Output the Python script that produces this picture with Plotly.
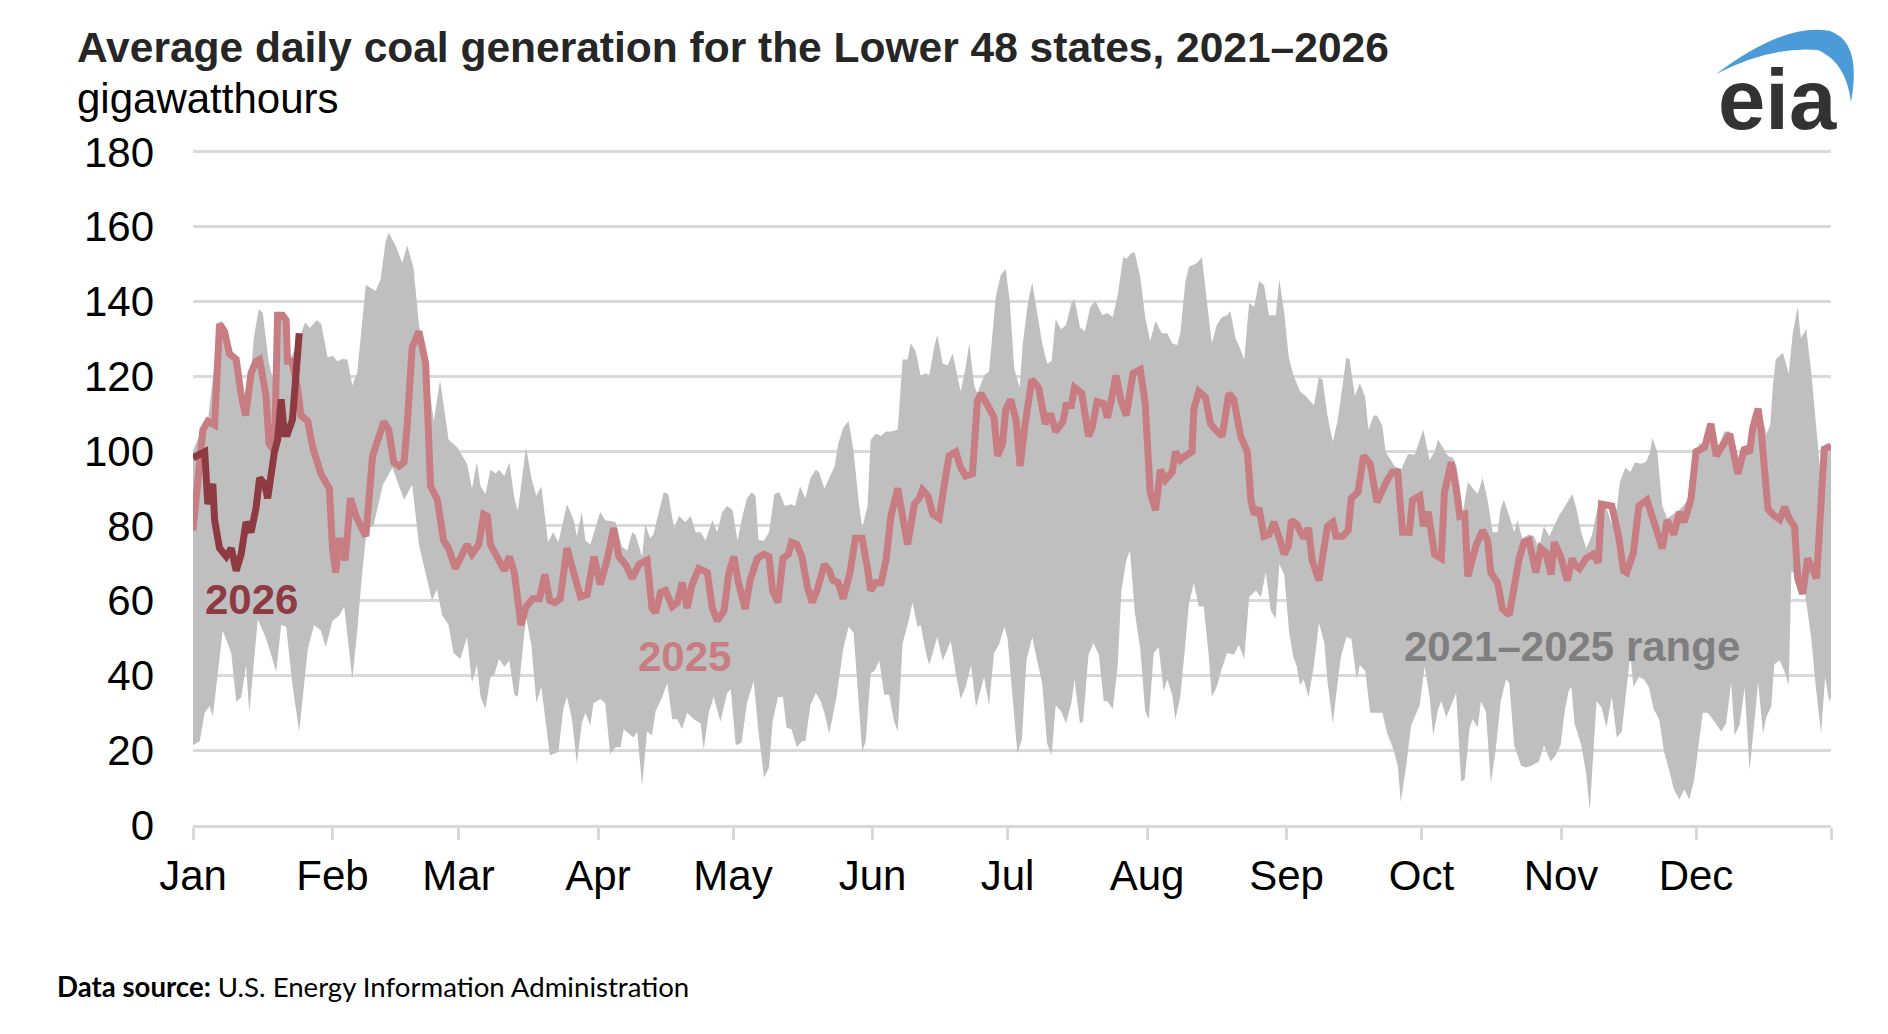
import plotly.graph_objects as go

# ---------------- data (day of year, 0 = Jan 1) ----------------
upper_day = [0, 2, 3.3, 5.9, 7, 8.1, 9.6, 10.7, 11.7, 12.9, 13.5, 14.6, 15.5, 16.8, 18, 18.8, 20, 20.7, 21.5, 23,
             24.9, 26, 27.5, 28.5, 29.9, 31, 32.1, 33.2, 34.3, 35.4, 36.5, 38.4, 40.6, 41.7, 42.8, 43.5, 45, 46.5, 47.6, 49,
             50.2, 51.7, 53.5, 54.9, 56.8, 58.7, 60.9, 62, 63.1, 63.9, 65, 66.1, 67.3, 68, 69.2, 70.3, 71.4, 72.2, 74, 75.2,
             76.3, 77.4, 78.9, 80, 81.2, 83.1, 84.6, 85.3, 86.4, 87.2, 88.3, 90.5, 91.6, 93.9, 95.3, 96.5, 97.6, 98.3, 99.8, 100.5,
             101.6, 102.3, 104.6, 105.6, 106.9, 108, 109.4, 110.6, 111.7, 112.8, 113.9, 115.4, 116.5, 117.6, 118.7, 119.9, 121, 121.9, 123.1, 124.2,
             125, 125.7, 126.9, 128, 129.2, 130.3, 131.5, 133, 133.8, 134.9, 136.1, 137.2, 138.4, 139.1, 140.3, 141.4, 142.6, 143.4, 144.5, 145.7,
             146.8, 147.9, 148.7, 149.9, 150.6, 151.7, 152.9, 154, 155.1, 156.6, 157.7, 158.8, 159.5, 160.6, 161.7, 162.9, 163.6, 164.7, 165.4, 166.6,
             167.7, 168.8, 169.9, 170.6, 171.7, 172.5, 173.6, 174.3, 175.8, 176.9, 178.4, 179.5, 180.6, 181.5, 182.5, 183.7, 184.4, 185.6, 186.5, 187.5,
             188.7, 189.8, 190.8, 191.7, 192.9, 194, 195.2, 195.9, 197.1, 198.2, 199.4, 200.5, 202.1, 203.2, 204.4, 205.5, 206.7, 207.4, 208.6, 209.3,
             210.5, 211.6, 212.7, 213.9, 215.3, 216.5, 217.6, 218.7, 219.4, 220.5, 221.3, 223.1, 224.2, 225.3, 226.4, 227.5, 228.6, 229.8, 230.5, 231.7,
             232.4, 233.6, 234.7, 235.8, 236.9, 238, 239.1, 240.6, 241.4, 242.5, 243.5, 244.5, 246, 247.2, 249.1, 250.2, 251, 252.1, 253.3, 254.4,
             255.5, 256.3, 257, 258.2, 259.3, 260.5, 261.2, 262.4, 263.1, 264.3, 265, 267, 268.5, 270, 271.5, 273.4, 274.8, 275.9, 276.7, 277.8,
             278.9, 280, 280.9, 282.2, 283.3, 284.4, 285.5, 286.6, 287.7, 288.8, 289.9, 290.6, 291.3, 292.5, 293.6, 294.3, 295.4, 296.9, 298, 299.1,
             300.2, 301.4, 302.4, 303.5, 304.6, 305.8, 306.5, 307.4, 308.5, 309.6, 310.8, 312.3, 313.8, 315.3, 316.4, 317.1, 318.3, 319.4, 320.5, 321.6,
             322.8, 323.7, 324.3, 325.4, 326.5, 327.6, 329.1, 330.3, 331.4, 332.5, 333.6, 334.7, 335.9, 337, 338.1, 339.2, 340.3, 341.5, 342.6, 343.7,
             344.8, 345.9, 347.1, 348, 349.7, 350.5, 351.1, 351.7, 353.3, 354.6, 355.5, 356.6, 357.3, 358.5, 359.6, 360.7, 361.8, 362.5, 363.5, 364]
upper_gwh = [100, 106, 108, 135, 132, 126, 124.5, 115, 110, 121, 130, 138, 137, 124, 118, 136.3, 136.5, 135, 124.5, 128,
             134.4, 133, 135, 134, 125, 125.5, 124, 124.6, 124.5, 117.5, 121, 144.4, 142.8, 146, 156, 158.4, 155, 150.3, 155, 149,
             134, 124, 108, 119, 103, 101, 96.6, 90, 97, 90.6, 88.5, 95, 94, 95, 93.3, 97, 87.4, 84, 101, 92.8,
             88, 90.6, 75.6, 78.3, 75.6, 85.8, 81.5, 77.2, 83.7, 76.1, 75, 83.7, 81.5, 81, 74.5, 73.4, 78.3, 77.7, 71.8, 80.4,
             76.7, 77.7, 89, 88.5, 79.4, 82.6, 81, 82.6, 78.3, 78.3, 76.1, 81.5, 78.3, 83.7, 85.3, 84.2, 76, 81.5, 87.4, 89,
             88, 76.1, 76.1, 78.3, 88.5, 89, 85.3, 85.8, 85.3, 90.6, 87.4, 92.8, 95, 94.4, 90, 92.8, 96, 102, 106.2, 108,
             99.8, 86.9, 79.4, 85.3, 103, 104.6, 104, 105.2, 105.2, 105.7, 124.5, 124.5, 128.8, 126.7, 120.2, 120.8, 120.2, 127.7, 131, 123.4,
             122.9, 126.1, 120.2, 115.9, 122.4, 128.8, 117.5, 115.4, 120.2, 121.3, 141.2, 147.1, 148.7, 140, 122, 117, 128.8, 140.1, 145, 137.4,
             128.8, 123.4, 124, 135.3, 132.6, 133.7, 139.6, 140.6, 133.1, 132, 138.5, 140.1, 136.3, 136.9, 135.8, 141.7, 151.9, 151.4, 153, 153,
             146.6, 135.8, 129.4, 134.7, 131.5, 131.5, 128.8, 128.3, 131.5, 145, 149.2, 150.3, 151.9, 140.1, 128.8, 133.7, 135.8, 136.3, 137.4, 130,
             128.3, 124.5, 139.6, 138.5, 145.5, 144.4, 136.3, 136.3, 146, 136.9, 125, 120.5, 115.9, 114.8, 112.2, 119.7, 119.1, 109.5, 102.5, 108.4,
             118.1, 125, 124.5, 114.8, 118.1, 114.3, 105.7, 109.5, 109.5, 106.8, 99.8, 96, 95, 99.2, 99, 105.7, 97.6, 99.8, 103, 100.9,
             98.7, 98.2, 95.5, 83.7, 91.7, 90, 88.5, 92.8, 86.9, 78.3, 78.3, 84.7, 86.9, 82.6, 78.3, 81.5, 76.7, 77.7, 77.2, 74,
             79.9, 77.2, 79.9, 82.6, 84.7, 86.9, 88.5, 84.7, 78.3, 74, 77.2, 85.8, 85.8, 80.4, 84.7, 91.8, 95.5, 94.4, 97, 96.6,
             97, 99.2, 103.5, 99.8, 85.3, 82, 83.1, 84.2, 85.8, 87.4, 98.7, 101.9, 102.5, 107.8, 100.9, 101.9, 105.2, 105.2, 99.8, 95,
             101.4, 101.9, 105.7, 111.6, 104.6, 107, 117.5, 124.4, 126.3, 120.7, 131.5, 138.6, 130.2, 132.5, 121.3, 106, 92, 100.5, 101.5, 101.5]

lower_day = [0, 1.5, 2.6, 3.7, 4.4, 5.5, 6.6, 8.5, 9.6, 10.7, 11.8, 12.5, 14.4, 16.2, 18.5, 19.6, 20.7, 22.1, 23.6, 25.5,
             26.9, 28.4, 29.5, 31, 32.5, 33.6, 35.4, 36.5, 37.6, 38.6, 40.1, 42.2, 44.3, 46.9, 48.7, 50.2, 51.7, 53.1, 54.2, 55.4,
             56.8, 57.9, 59.4, 60.9, 62, 63.1, 63.9, 65, 66.1, 66.9, 68, 69.2, 70.3, 71.4, 72.2, 72.9, 74, 75.2, 76.3, 77.4,
             79.3, 81.2, 82.3, 83.1, 84.2, 85.3, 86.4, 87.2, 88.3, 89, 90.5, 91.6, 92.7, 93.9, 95, 95.7, 96.8, 97.9, 98.7, 99.8,
             100.9, 102, 102.8, 104.3, 105.4, 106.5, 107.6, 108.7, 109.8, 111.3, 112.8, 113.5, 114.6, 115.7, 117.2, 118.7, 119.5, 120.6, 121.9, 123.1,
             124.6, 125.7, 126.9, 128, 128.8, 130, 131.1, 131.9, 133, 134.2, 135.3, 136.1, 137.2, 138.4, 139.5, 140.3, 141.4, 143, 144.5, 145.7,
             146.8, 147.6, 148.7, 149.5, 150.6, 151.4, 152.5, 153.6, 154.7, 155.8, 156.6, 157.7, 158.8, 159.9, 161, 161.7, 162.9, 163.6, 164.7, 165.4,
             166.6, 168.4, 169.5, 170.6, 171.7, 172.9, 174, 174.7, 175.8, 176.9, 178, 179.1, 180.3, 181, 182, 183.2, 184.2, 185.2, 186.5, 187.5,
             188.7, 189.8, 190.8, 191.7, 192.9, 194, 195.2, 195.9, 197.1, 197.8, 199, 200.1, 201.3, 202.4, 203.2, 204.4, 205.5, 206.3, 207.4, 208.2,
             209.3, 210.5, 211.6, 212.4, 213.5, 214.6, 215.7, 216.5, 217.6, 218.3, 219.4, 220.5, 221.3, 222.4, 223.5, 224.6, 225.7, 226.4, 227.5, 228.6,
             229.8, 231.3, 232.4, 233.6, 234.7, 236.2, 237.3, 238.4, 239.5, 240.6, 241.4, 242.5, 243.6, 244.5, 245.3, 246, 246.8, 247.9, 249.1, 250.2,
             251.4, 252.1, 253.3, 254.4, 255.1, 256.3, 257.4, 258.6, 259.3, 260.5, 261.6, 262.7, 264.3, 265.4, 266.9, 267.7, 268.4, 269.6, 270.7, 271.9,
             272.6, 273.7, 274.8, 275.6, 276.7, 277.4, 278.5, 279.6, 280.7, 281.8, 282.6, 283.7, 284.4, 285.5, 286.2, 287.3, 288.4, 289.5, 290.6, 291.8,
             292.5, 293.6, 295.1, 296.2, 297.6, 299.1, 300.2, 301.7, 302.8, 303.9, 304.9, 305.7, 306.3, 307, 308.5, 309.6, 310.4, 311.1, 311.9, 313,
             314.1, 315.3, 316.4, 317.5, 318.3, 319.4, 320.1, 321.3, 322.4, 323.5, 324.6, 325.8, 326.9, 328, 329.1, 330.3, 331.4, 332.5, 333.6, 334.7,
             335.5, 336.6, 338.1, 339.6, 340.7, 341.8, 342.6, 343.7, 344.8, 345.9, 347, 347.8, 348.9, 349.6, 350.7, 351.4, 352.6, 353.7, 354.6, 355.2,
             356.6, 358, 359.6, 360.7, 361.8, 362.7, 363.6, 364]
lower_gwh = [21.3, 22.4, 30, 31.8, 29, 39.6, 52, 46, 33, 34, 42.8, 30, 55, 50, 41, 53.5, 53, 37.4, 25, 47,
             53.5, 52, 47.6, 54.6, 56, 58.4, 39, 52, 67.5, 79, 80, 91, 95.5, 87, 91, 75, 67, 60, 63, 56,
             53.5, 46, 44.4, 50.3, 38, 42.8, 34.3, 31, 39.6, 40, 44.4, 42.3, 44, 34.8, 34.3, 42, 55.7, 48, 32.6, 37,
             18.6, 19.6, 31, 34.3, 28.4, 16.4, 27.2, 30, 26.6, 32.6, 33.7, 32.6, 19, 20.8, 20.8, 25.6, 24.5, 23.4, 25, 10.5,
             25, 24, 30.5, 34.3, 38, 28.3, 28.3, 25.6, 30, 28.3, 27.2, 20.2, 30, 34.2, 27.7, 35.3, 36.3, 21.3, 22, 32.6,
             38.5, 24.5, 12.7, 15.4, 27.7, 34.2, 34.2, 26.1, 25.6, 20.8, 22.4, 22.4, 32, 35.3, 33.1, 30, 24.5, 34.2, 47.1, 53,
             51.4, 39.6, 19.7, 22.4, 40.6, 41.2, 43.9, 34.8, 34.8, 27.7, 25, 48.7, 53.5, 59.5, 53, 53.5, 46, 42.8, 47.1, 50.3,
             43.9, 49.2, 40.6, 33.7, 37, 42.8, 31.5, 34.2, 39.6, 32, 46, 48.2, 53, 50, 35, 19.1, 22.9, 43.9, 50.3, 44.4,
             38, 21.8, 18.6, 32, 30.4, 27.2, 32.6, 39, 27.2, 27.7, 45.5, 48.7, 45.5, 33.1, 33.1, 31, 42.8, 62.7, 70.8, 73.4,
             56.8, 47.1, 30.4, 28.3, 46, 47.6, 35.8, 39, 34.8, 28.3, 34.3, 48.2, 58.9, 64.8, 58.4, 58.4, 45.5, 34.3, 37, 41.7,
             46, 45.5, 48.2, 44.4, 61, 62.7, 61, 67.5, 57.3, 55.2, 69.7, 67, 51.4, 45, 42.3, 37.4, 39, 34.2, 42.8, 54.1,
             48.7, 38.5, 27.2, 38.5, 45, 50.3, 49.8, 39, 42.8, 41.2, 30, 30, 30, 24.5, 19.7, 15.9, 6.2, 15.9, 26.7, 30,
             32, 42.3, 34.2, 24, 31, 33.1, 28.8, 32, 35.3, 11.6, 12.2, 26.1, 28.3, 26.1, 33.1, 30.4, 11.1, 20.2, 33.1, 39,
             38, 21.3, 15.9, 15.4, 15.9, 17, 21.3, 17, 18.6, 21.3, 31, 35.8, 37, 27.2, 21.3, 13.8, 4.1, 15.9, 33.1, 31.5,
             26.1, 34.3, 23.4, 25, 33.1, 45.5, 36.9, 39.6, 39, 36.9, 31, 28.3, 19.6, 14.8, 9.5, 6.8, 9.5, 6.8, 12.2, 22.4,
             30, 30, 27.7, 25, 27.2, 38, 24, 26.8, 36.7, 14.6, 27.8, 38.2, 24.5, 28.8, 31.6, 43, 44, 41, 37.3, 68,
             66, 64, 50, 36, 24.5, 39.6, 33, 34]

y2025_day = [0, 1.5, 2.2, 3.3, 4.8, 5.9, 7, 8.1, 9.6, 10.7, 11.7, 12.9, 14, 14.8, 16.2, 16.9, 18.1, 18.8, 19.9, 20.7,
             21, 22, 23.2, 24, 25.5, 26.6, 28.4, 30.3, 31, 31.7, 32.5, 33.8, 35, 36.2, 37.3, 38.4, 39.9, 40.9, 42.4, 43.5,
             44.6, 45.8, 46.9, 47.6, 48.7, 50.2, 51.7, 52.8, 54.3, 55.7, 56.8, 58.3, 59.8, 60.9, 62, 63.5, 64.6, 65.4, 66.1, 67.3,
             68.4, 69.2, 70.3, 71.4, 72.2, 72.9, 74, 75.5, 77, 78.2, 79.3, 80.4, 81.6, 83.1, 84.6, 86.1, 87.6, 89.1, 90.5, 92,
             93.5, 94.6, 96.1, 97.6, 99.1, 100.9, 102, 102.8, 103.9, 105, 106.5, 107.6, 108.7, 109.8, 110.9, 112.4, 114.3, 115.4, 116.5, 118,
             119.1, 120.2, 121.1, 122.7, 123.8, 125.4, 126.9, 128, 128.8, 130, 131.1, 132.3, 133, 134.2, 135.3, 136.5, 137.6, 138.8, 140.3, 141.4,
             142.2, 143.4, 144.5, 146, 147.2, 148.7, 149.9, 150.6, 151.7, 152.9, 154, 155.1, 156.6, 157.7, 158.8, 160.3, 161.4, 162.1, 163.3, 164.4,
             165.8, 166.9, 168, 169.5, 170.6, 171.7, 173.2, 174.3, 175.1, 176.6, 178, 178.8, 179.9, 180.6, 181.7, 182.9, 183.8, 184.8, 186.4, 187.9,
             189.4, 190.6, 191.7, 193.3, 194, 195.2, 195.9, 197.5, 199, 199.8, 200.9, 202.4, 203.2, 204, 205.1, 206.3, 207.4, 208.9, 210.5, 211.6,
             212.7, 213.9, 215, 216.1, 217.6, 218.3, 219.4, 220.5, 222, 222.4, 223.5, 225, 226.1, 227.2, 228.7, 230.2, 231.3, 232.8, 234.3, 235.1,
             235.8, 236.9, 238, 239.1, 240.2, 241.4, 242.5, 243.4, 244.1, 245.3, 246.8, 247.9, 248.7, 250.2, 251.4, 252.1, 253.3, 254, 255.5, 256.7,
             257.4, 258.9, 260.1, 261.6, 263.1, 264.3, 265.4, 266.5, 267.7, 268.8, 270.3, 271, 272.6, 273.4, 274.5, 275.9, 277.4, 278.1, 279.6, 280.7,
             281.5, 282.6, 283.3, 285.2, 286.6, 287.7, 288.4, 289.9, 291, 292.5, 293.6, 294.7, 295.8, 296.9, 298.4, 299.5, 300.6, 301.8, 302.5, 303.9,
             305.4, 306.5, 307, 308.1, 309.6, 311.1, 312.3, 313, 315.3, 316.8, 317.9, 318.6, 320.1, 321.3, 323.1, 324.6, 326.5, 327.6, 329.1, 330.3,
             331.4, 332.9, 334, 335.9, 337.3, 338.5, 340, 341.5, 343.3, 344.8, 345.9, 346.6, 347.8, 348.5, 350, 351.1, 352.6, 353.7, 354.8, 355.9,
             356.6, 357.7, 358.8, 359.6, 360.8, 362.5, 364]
y2025_gwh = [78.8, 97.6, 105.7, 108, 107, 134, 132, 126, 124.5, 115, 109.5, 120.8, 124, 124.5, 115, 102, 100, 136.3, 136.3, 135,
             124, 124, 117, 109.5, 108, 101, 94, 90, 74, 67.5, 76.7, 70.8, 87.4, 82.6, 79.4, 77.2, 98.7, 102.5, 107.8, 105.7,
             97, 96, 97, 107, 127.7, 132, 123.4, 90.6, 87, 76, 74, 68.6, 71.8, 75, 72.4, 75, 83.1, 82.6, 75, 72.4,
             69.1, 68, 71.8, 67.5, 60, 53.5, 58.4, 60.5, 60.5, 67, 60, 59.5, 60.5, 74, 67.5, 61, 61.6, 71.8, 64.3, 70.8,
             79.4, 71.8, 69.7, 66, 69.7, 70.8, 58, 56.8, 62.2, 62.7, 58.4, 59.5, 64.8, 58, 64.3, 68.6, 67.5, 58, 54.6, 57.3,
             67.5, 71.8, 65.4, 57.8, 65.4, 71.3, 72.4, 71.8, 62.7, 59.5, 71.3, 72.4, 75.6, 75, 71.8, 63.8, 59.5, 63.2, 69.7, 68,
             65.4, 64.8, 60.5, 67.5, 76.7, 76.7, 68.6, 62.7, 64.8, 64.8, 70.8, 82.6, 90, 81.5, 75, 85.8, 87.4, 89.6, 88, 83.1,
             82, 90.6, 98.7, 99.8, 95.5, 93.3, 93.9, 113.2, 115.4, 112.2, 109, 98.7, 102, 111.1, 113.8, 108.4, 96, 106.2, 119.1, 117,
             107.3, 110, 105.2, 107.8, 112.2, 112.2, 117, 115.4, 104, 106.2, 113.2, 112.7, 108.9, 113.2, 120.2, 113.2, 109.5, 120.8, 121.8, 112.7,
             89, 84.2, 95, 92.3, 94.4, 99.8, 97.6, 98.7, 99.8, 111.1, 115.9, 114.3, 107.3, 105.7, 104, 115.4, 113.8, 104, 99.8, 86.9,
             83.1, 84.7, 77.2, 77.7, 81, 76.7, 72.4, 74.5, 81.5, 80.4, 76.7, 79.4, 70.8, 65.4, 74, 79.9, 81, 77.2, 77.2, 78.8,
             87.4, 89, 98.7, 96.6, 86.3, 90, 92.3, 94.4, 94.4, 78.3, 78.3, 86.9, 88, 79.9, 83.7, 72.4, 71.3, 89, 97, 90,
             82.6, 83.1, 66.5, 75, 78.8, 76.1, 67.5, 64.8, 57.8, 56.2, 64.8, 71.3, 75.6, 76.1, 67.5, 74, 72.9, 67, 75.6, 71.8,
             65.4, 71.3, 69.7, 68.6, 71.3, 72.4, 70.2, 85.8, 85.3, 77.2, 68, 67.5, 72.9, 85.3, 86.9, 81, 74, 81.5, 77.7, 83.7,
             81, 87.4, 99.8, 101, 107.3, 98.7, 101.4, 104.6, 93.9, 100.9, 99.5, 106.1, 111.3, 105.2, 84.5, 83, 81.7, 85, 81.7, 79.8,
             66, 61.8, 71.3, 69.4, 66, 100.5, 101.4]

y2026_day = [0, 2.6, 3.3, 4.4, 4.8, 5.9, 7.4, 8.5, 9.6, 10.7, 11.8, 12.9, 14, 14.8, 15.9, 16.6, 18.1, 18.8, 19.6, 20.3,
             21, 22.1, 23.6]
y2026_gwh = [98.2, 99.8, 85.8, 91.2, 81.5, 74, 71.8, 74, 68, 72.4, 81, 78.3, 84.7, 92.8, 91.2, 87.4, 99.8, 103, 113.8, 104.6,
             104.6, 108.4, 131.5]

month_start_day = [0, 31, 59, 90, 120, 151, 181, 212, 243, 273, 304, 334, 364]
month_labels = ["Jan", "Feb", "Mar", "Apr", "May", "Jun", "Jul", "Aug", "Sep", "Oct", "Nov", "Dec", ""]
y_ticks = [0, 20, 40, 60, 80, 100, 120, 140, 160, 180]

# ---------------- styling ----------------
W, H = 1888, 1034
L, R, T, B = 193, 1831, 150, 825   # plot area in pixels
Y_MAX = 180.5                      # a hair above 180 so the top gridline shows
GRAY_FILL = "#bfbfbf"
PINK = "#c77d82"
DARK = "#8e3a42"
GRID = "#d9d9d9"
FONT = "Liberation Sans, Arial, sans-serif"


def px(x):
    return (x - L) / (R - L)


def py(y):
    return (B - y) / (B - T)


fig = go.Figure()

# 2021-2025 range band (upper edge, then lower edge reversed)
fig.add_trace(go.Scatter(
    x=upper_day + lower_day[::-1],
    y=upper_gwh + lower_gwh[::-1],
    fill="toself", fillcolor=GRAY_FILL, mode="lines",
    line=dict(width=0, color=GRAY_FILL), hoverinfo="skip", showlegend=False))

fig.add_trace(go.Scatter(x=y2025_day, y=y2025_gwh, mode="lines",
                         line=dict(color=PINK, width=7), showlegend=False))
fig.add_trace(go.Scatter(x=y2026_day, y=y2026_gwh, mode="lines",
                         line=dict(color=DARK, width=7), showlegend=False))

# series labels
fig.add_annotation(x=13.0, y=60.3, text="<b>2026</b>", showarrow=False,
                   font=dict(family=FONT, size=42, color=DARK), xanchor="center", yanchor="middle")
fig.add_annotation(x=109.3, y=45.1, text="<b>2025</b>", showarrow=False,
                   font=dict(family=FONT, size=42, color=PINK), xanchor="center", yanchor="middle")
fig.add_annotation(x=306.4, y=47.7, text="<b>2021–2025 range</b>", showarrow=False,
                   font=dict(family=FONT, size=42, color="#7f7f7f"), xanchor="center", yanchor="middle")

# title / subtitle / source
fig.add_annotation(xref="paper", yref="paper", x=px(75), y=py(48), xanchor="left", yanchor="middle",
                   text="<b>Average daily coal generation for the Lower 48 states, 2021–2026</b>",
                   showarrow=False, font=dict(family=FONT, size=42.5, color="#262626"))
fig.add_annotation(xref="paper", yref="paper", x=px(75), y=py(98), xanchor="left", yanchor="middle",
                   text="gigawatthours", showarrow=False, font=dict(family=FONT, size=42, color="#000000"))
fig.add_annotation(xref="paper", yref="paper", x=px(55), y=py(986), xanchor="left", yanchor="middle",
                   text="<b>Data source:</b> U.S. Energy Information Administration",
                   showarrow=False, font=dict(family="Lato, sans-serif", size=27.6, color="#000000"))

# eia logo
fig.add_annotation(xref="paper", yref="paper", x=px(1777), y=py(100), xanchor="center", yanchor="middle",
                   text="<b>eia</b>", showarrow=False,
                   font=dict(family=FONT, size=85, color="#333333"))
swoosh = [(1716, 74), (1785, 22), (1830, 31), (1862, 42), (1851, 102), (1846, 62), (1818, 50), (1770, 46), (1716, 74)]
p = [(px(a), py(b)) for a, b in swoosh]
path = (f"M {p[0][0]},{p[0][1]} Q {p[1][0]},{p[1][1]} {p[2][0]},{p[2][1]} "
        f"Q {p[3][0]},{p[3][1]} {p[4][0]},{p[4][1]} "
        f"Q {p[5][0]},{p[5][1]} {p[6][0]},{p[6][1]} "
        f"Q {p[7][0]},{p[7][1]} {p[8][0]},{p[8][1]} Z")
fig.add_shape(type="path", xref="paper", yref="paper", path=path,
              fillcolor="#4a9bd8", line=dict(width=0), layer="above")

fig.update_layout(
    width=W, height=H,
    margin=dict(l=L, r=W - R, t=T, b=H - B, pad=0),
    paper_bgcolor="white", plot_bgcolor="white",
    showlegend=False, hovermode=False,
    xaxis=dict(range=[0, 364], tickmode="array", tickvals=month_start_day, ticktext=month_labels,
               showgrid=False, zeroline=False, showline=True, linecolor=GRID, linewidth=2.5,
               ticks="outside", ticklen=12, tickwidth=2.5, tickcolor=GRID,
               tickfont=dict(family=FONT, size=42, color="#000000"), ticklabelstandoff=0),
    yaxis=dict(range=[0, Y_MAX], tickmode="array", tickvals=y_ticks,
               showgrid=True, gridcolor=GRID, gridwidth=2.5, zeroline=False, showline=False,
               ticks="", tickfont=dict(family=FONT, size=42, color="#000000"), ticklabelstandoff=38),
)

fig.write_html("out.html", include_plotlyjs=True, config={"displayModeBar": False},
               post_script="document.body.style.margin='0';document.body.style.padding='0';")
